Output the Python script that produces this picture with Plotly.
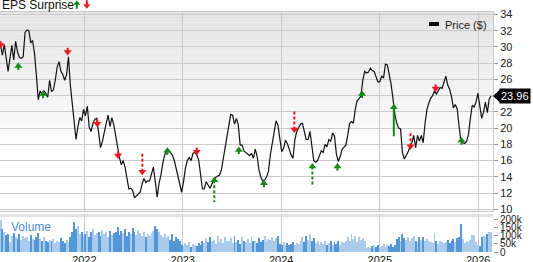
import pandas as pd
import plotly.graph_objects as go

# ---------------- data ----------------
start_date = "2021-02-24"
price = [
    30.2, 29.0, 30.3, 28.8, 27.0, 28.6, 30.2, 28.4, 30.7, 29.4,
    28.7, 28.6, 28.8, 31.8, 32.1, 32.0, 30.5, 30.8, 29.2, 26.5,
    23.5, 24.6, 24.2, 24.6, 24.3, 23.8, 25.9, 24.5, 24.7, 25.9,
    27.5, 28.2, 27.0, 26.6, 25.9, 26.6, 28.8, 25.3, 23.1, 20.5,
    18.6, 20.2, 21.3, 20.9, 22.3, 21.5, 22.7, 20.1, 19.6, 20.6,
    21.1, 21.2, 19.5, 17.6, 18.4, 19.7, 20.6, 21.6, 20.2, 21.3,
    20.4, 19.1, 17.7, 16.4, 15.5, 16.0, 15.2, 13.6, 12.5, 12.6,
    12.3, 11.4, 11.6, 11.8, 12.1, 13.1, 13.8, 13.3, 13.5, 13.5,
    14.4, 15.2, 13.4, 11.5, 13.2, 14.2, 15.7, 16.7, 17.2, 17.3,
    17.0, 16.7, 16.1, 15.1, 13.9, 12.9, 12.1, 13.4, 15.1, 16.0,
    16.4, 16.0, 16.9, 17.0, 16.7, 16.1, 14.2, 12.5, 12.5, 13.4,
    13.0, 12.6, 13.1, 13.6, 13.9, 14.1, 14.2, 14.8, 16.2, 17.9,
    19.1, 20.8, 21.7, 21.6, 20.5, 21.2, 20.4, 17.9, 17.9, 17.2,
    17.0, 16.8, 16.6, 16.9, 16.3, 17.4, 16.5, 14.8, 13.9, 13.5,
    13.6, 14.0, 14.7, 16.7, 18.2, 19.9, 20.9, 20.4, 18.6, 17.1,
    17.5, 18.5, 18.1, 17.3, 16.7, 16.3, 18.6, 19.6, 20.0, 20.5,
    20.6, 19.5, 18.6, 18.6, 19.6, 17.8, 16.0, 15.8, 16.0, 16.6,
    17.2, 17.0, 18.0, 17.7, 18.6, 18.4, 19.4, 19.0, 16.8, 15.9,
    16.5, 17.4, 17.6, 17.9, 19.1, 20.6, 20.8, 20.6, 22.3, 23.4,
    23.6, 24.0, 25.9, 27.0, 26.8, 26.9, 27.4, 27.1, 27.0, 26.4,
    25.7, 25.7, 26.4, 26.2, 27.9, 27.8, 26.8, 25.4, 23.6, 21.7,
    20.6, 20.0, 19.9, 17.0, 16.2, 16.6, 17.1, 17.7, 18.2, 19.1,
    17.6, 19.1, 18.4, 19.1, 18.2, 20.6, 22.3, 23.1, 23.7, 24.0,
    24.6, 24.2, 24.6, 25.0, 24.9, 25.8, 26.4, 25.3, 24.8, 23.9,
    22.5, 22.9, 22.4, 20.3, 18.3, 18.2, 18.1, 18.4, 19.2, 21.2,
    22.8, 22.6, 23.2, 24.3, 22.4, 21.2, 22.0, 23.2, 21.9, 23.6,
    23.96,
]
volume_k = [
    195, 140, 120, 105, 110, 60, 100, 115, 95, 80,
    110, 75, 100, 85, 90, 70, 105, 80, 75, 95,
    115, 80, 70, 90, 70, 60, 75, 65, 80, 55,
    70, 60, 85, 65, 55, 75, 60, 90, 120, 185,
    140, 160, 110, 125, 100, 110, 130, 95, 120, 140,
    105, 115, 125, 100, 135, 110, 120, 95, 130, 105,
    115, 120, 155, 105, 130, 115, 140, 100, 125, 110,
    145, 120, 105, 135, 115, 100, 125, 95, 110, 100,
    115, 130, 160, 140, 120, 105, 95, 110, 85, 100,
    75, 110, 70, 90, 80, 65, 45, 35, 55, 40,
    60, 30, 50, 45, 38, 55, 42, 70, 55, 85,
    60, 95, 65, 75, 50, 100, 60, 80, 55, 90,
    70, 65, 85, 55, 100, 60, 75, 50, 95, 70,
    60, 80, 55, 90, 65, 70, 55, 85, 60, 75,
    100, 65, 80, 75, 90, 70, 85, 100, 50, 45,
    60, 40, 55, 45, 50, 60, 42, 55, 48, 70,
    90, 60, 100, 75, 110, 65, 85, 55, 65, 45,
    60, 50, 70, 45, 55, 65, 40, 60, 50, 70,
    45, 60, 55, 70, 95, 65, 110, 80, 100, 60,
    90, 75, 85, 65, 22, 30, 25, 35, 40, 30,
    45, 28, 38, 50, 32, 42, 35, 48, 30, 45,
    80, 95, 70, 108, 85, 75, 90, 65, 85, 100,
    70, 60, 90, 75, 95, 65, 80, 70, 60, 55,
    115, 65, 50, 70, 60, 55, 60, 75, 55, 70,
    80, 60, 85, 95, 170, 80, 55, 70, 60, 75,
    105, 105, 60, 45, 35, 90, 100, 95, 110, 120,
    125,
]

eps_dates = ["2021-02-24", "2021-05-01", "2021-08-01", "2021-10-31", "2022-02-18",
             "2022-05-06", "2022-08-04", "2022-11-05", "2023-02-22", "2023-04-28",
             "2023-07-28", "2023-10-29", "2024-02-19", "2024-04-26", "2024-07-28",
             "2024-10-27", "2025-02-22", "2025-04-25", "2025-07-27", "2025-10-31"]
eps_dir = ["down", "up", "up", "down", "down",
           "down", "down", "up", "down", "up",
           "up", "up", "down", "up", "up",
           "up", "up", "down", "down", "up"]
eps_tip = [29.8, 28.1, 24.65, 28.95, 20.1,
           16.2, 14.2, 17.65, 16.65, 14.0,
           17.75, 13.65, 19.4, 15.7, 15.7,
           24.65, 23.0, 17.35, 24.45, 18.9]
eps_end = [30.75, 27.15, 23.7, 29.9, 21.05,
           17.15, 17.05, 16.7, 17.6, 10.9,
           16.8, 12.7, 22.2, 12.95, 14.75,
           23.7, 19.0, 19.65, 25.4, 17.95]
eps_dashed = [False, False, False, False, False,
              False, True, False, False, True,
              False, False, True, True, False,
              False, False, True, False, False]

price_ticks = list(range(10, 35, 2))
vol_ticks = [0, 50000, 100000, 150000, 200000]
vol_tick_text = ["0", "50k", "100k", "150k", "200k"]

# ---------------- styling ----------------
FONT = "Liberation Sans, Arial, sans-serif"
GRID = "#cacaca"
GREEN = "#168a16"
RED = "#f2161c"
W, H = 533, 262
ML, MR, MT, MB = 0, 40, 12, 10
PW, PH = W - ML - MR, H - MT - MB
price_range = [9.79, 34.31]
price_domain = [(252 - 211) / PH, 1.0]
vol_domain = [0.0, (252 - 215) / PH]
x_range = ["2021-02-22", "2026-02-25"]

ppu = (price_domain[1] - price_domain[0]) * PH / (price_range[1] - price_range[0])


def px(xp, yp):
    """pixel -> paper coords (decorations only)"""
    return xp / PW, (H - MB - yp) / PH


dates = pd.date_range(start_date, periods=len(price), freq="7D")
volume = [v * 1000 for v in volume_k]
vol_colors = ["#aacbeb"] + ["#5497d6" if price[i] < price[i - 1] - 0.2 else "#aacbeb"
                            for i in range(1, len(price))]

# the last-price flag covers the tick label right under it
last = price[-1]
price_tick_text = ["" if abs(v - last) < 1.2 else str(v) for v in price_ticks]

fig = go.Figure()

fig.add_trace(go.Bar(x=dates, y=volume, marker=dict(color=vol_colors, line=dict(width=0)),
                     width=3.6 * 86400000, xaxis="x2", yaxis="y2", hoverinfo="skip"))

fig.add_trace(go.Scatter(x=dates, y=price, mode="lines",
                         line=dict(color="#111111", width=1.2), hoverinfo="skip"))

# EPS arrows: stems
head_off = 3.5 / ppu
for color, d in [(GREEN, "up"), (RED, "down")]:
    for dashed in (False, True):
        xs, ys = [], []
        for dt, dr, tp, en, ds in zip(eps_dates, eps_dir, eps_tip, eps_end, eps_dashed):
            if dr == d and ds == dashed:
                c = tp - head_off if d == "up" else tp + head_off
                xs += [dt, dt, None]
                ys += [c, en, None]
        if xs:
            fig.add_trace(go.Scatter(x=xs, y=ys, mode="lines",
                                     line=dict(color=color, width=2,
                                               dash="3px,2px" if dashed else "solid"),
                                     hoverinfo="skip"))
# heads
for color, d, sym in [(GREEN, "up", "triangle-up"), (RED, "down", "triangle-down")]:
    xs = [dt for dt, dr in zip(eps_dates, eps_dir) if dr == d]
    ys = [(tp - head_off if d == "up" else tp + head_off)
          for tp, dr in zip(eps_tip, eps_dir) if dr == d]
    fig.add_trace(go.Scatter(x=xs, y=ys, mode="markers",
                             marker=dict(symbol=sym, size=7, color=color, line=dict(width=0)),
                             hoverinfo="skip"))

shapes = []
# gradient background of the price panel
N = 40
for k in range(N):
    t = (k + 0.5) / N
    v = int(round(227 + (255 - 227) * t))
    col = f"rgb({v},{v},{v})"
    shapes.append(dict(type="rect", xref="x domain", yref="y domain", x0=0, x1=1,
                       y0=1 - 0.72 * (k + 1) / N, y1=1 - 0.72 * k / N,
                       fillcolor=col, line=dict(width=0), layer="below"))

# separator band above volume panel
a0, b0 = px(0, 217)
a1, b1 = px(PW, 214)
shapes.append(dict(type="rect", xref="paper", yref="paper", x0=0, x1=1, y0=b0, y1=b1,
                   fillcolor="#e2e2e2", line=dict(width=0), layer="below"))

# legend rectangle for Price
lx0, ly0 = px(429, 26)
lx1, ly1 = px(439, 22)
shapes.append(dict(type="rect", xref="paper", yref="paper", x0=lx0, x1=lx1, y0=ly0, y1=ly1,
                   fillcolor="#000000", line=dict(width=0)))


def arrow_path(cx, tip_y, up, color):
    if up:
        pts = [(cx - 3.6, tip_y + 4.5), (cx, tip_y), (cx + 3.6, tip_y + 4.5),
               (cx + 1, tip_y + 4.5), (cx + 1, tip_y + 8.5), (cx - 1, tip_y + 8.5),
               (cx - 1, tip_y + 4.5)]
    else:
        pts = [(cx - 3.6, tip_y - 4.5), (cx, tip_y), (cx + 3.6, tip_y - 4.5),
               (cx + 1, tip_y - 4.5), (cx + 1, tip_y - 8.5), (cx - 1, tip_y - 8.5),
               (cx - 1, tip_y - 4.5)]
    p = " L".join(f"{px(a, b)[0]:.5f},{px(a, b)[1]:.5f}" for a, b in pts)
    return dict(type="path", xref="paper", yref="paper", path="M" + p + " Z",
                fillcolor=color, line=dict(width=0))


shapes.append(arrow_path(76.8, 0.2, True, GREEN))
shapes.append(arrow_path(86.8, 8.8, False, RED))

# pointer of the last-price label
shapes.append(dict(type="path", xref="paper", yref="y", xsizemode="pixel", ysizemode="pixel",
                   xanchor=1, yanchor=last, path="M0,0 L7,6.5 L7,-6.5 Z",
                   fillcolor="#000000", line=dict(width=0)))

annotations = []
tx, ty = px(0, 4.5)
annotations.append(dict(text="EPS Surprise", xref="paper", yref="paper", x=tx, y=ty,
                        xanchor="left", yanchor="middle", showarrow=False,
                        font=dict(size=12, color="#111111", family=FONT)))
tx, ty = px(443, 24.5)
annotations.append(dict(text="Price ($)", xref="paper", yref="paper", x=tx, y=ty,
                        xanchor="left", yanchor="middle", showarrow=False,
                        font=dict(size=11, color="#222222", family=FONT)))
tx, ty = px(9, 227)
annotations.append(dict(text="Volume", xref="paper", yref="paper", x=tx, y=ty,
                        xanchor="left", yanchor="middle", showarrow=False,
                        font=dict(size=12, color="#4a90d2", family=FONT)))
annotations.append(dict(text=f"{last:.2f}", xref="paper", yref="y", x=1, y=last,
                        xanchor="left", yanchor="middle", xshift=6, showarrow=False,
                        bgcolor="#000000", borderpad=1,
                        font=dict(size=11, color="#ffffff", family=FONT)))

fig.update_layout(
    width=W, height=H,
    margin=dict(l=ML, r=MR, t=MT, b=MB, pad=0),
    paper_bgcolor="#ffffff", plot_bgcolor="rgba(0,0,0,0)",
    showlegend=False, bargap=0,
    font=dict(family=FONT, size=11, color="#222222"),
    shapes=shapes, annotations=annotations,
    xaxis=dict(domain=[0, 1], anchor="y", range=x_range, type="date",
               showticklabels=False, showgrid=True, gridcolor=GRID, gridwidth=1,
               dtick="M12", tick0="2022-01-01", ticks="",
               showline=True, mirror=True, linecolor=GRID, zeroline=False,
               automargin=False),
    yaxis=dict(domain=price_domain, anchor="x", range=price_range, side="right",
               tickvals=price_ticks, ticktext=price_tick_text,
               showgrid=True, gridcolor=GRID, gridwidth=1,
               ticks="outside", ticklen=4, tickcolor="#999999",
               showline=True, mirror=True, linecolor=GRID, zeroline=False,
               tickfont=dict(size=11, color="#222222"), automargin=False),
    xaxis2=dict(domain=[0, 1], anchor="y2", matches="x", type="date",
                showgrid=True, gridcolor=GRID, gridwidth=1,
                dtick="M12", tick0="2022-01-01", tickformat="%Y", ticks="",
                showline=False, zeroline=False,
                tickfont=dict(size=11, color="#222222"), automargin=False),
    yaxis2=dict(domain=vol_domain, anchor="x2", range=[0, 227000], side="right",
                tickvals=vol_ticks, ticktext=vol_tick_text, showgrid=False,
                ticks="outside", ticklen=4, tickcolor="#999999",
                showline=False, zeroline=False,
                tickfont=dict(size=10, color="#222222"), automargin=False),
)

fig.write_html("out.html")
